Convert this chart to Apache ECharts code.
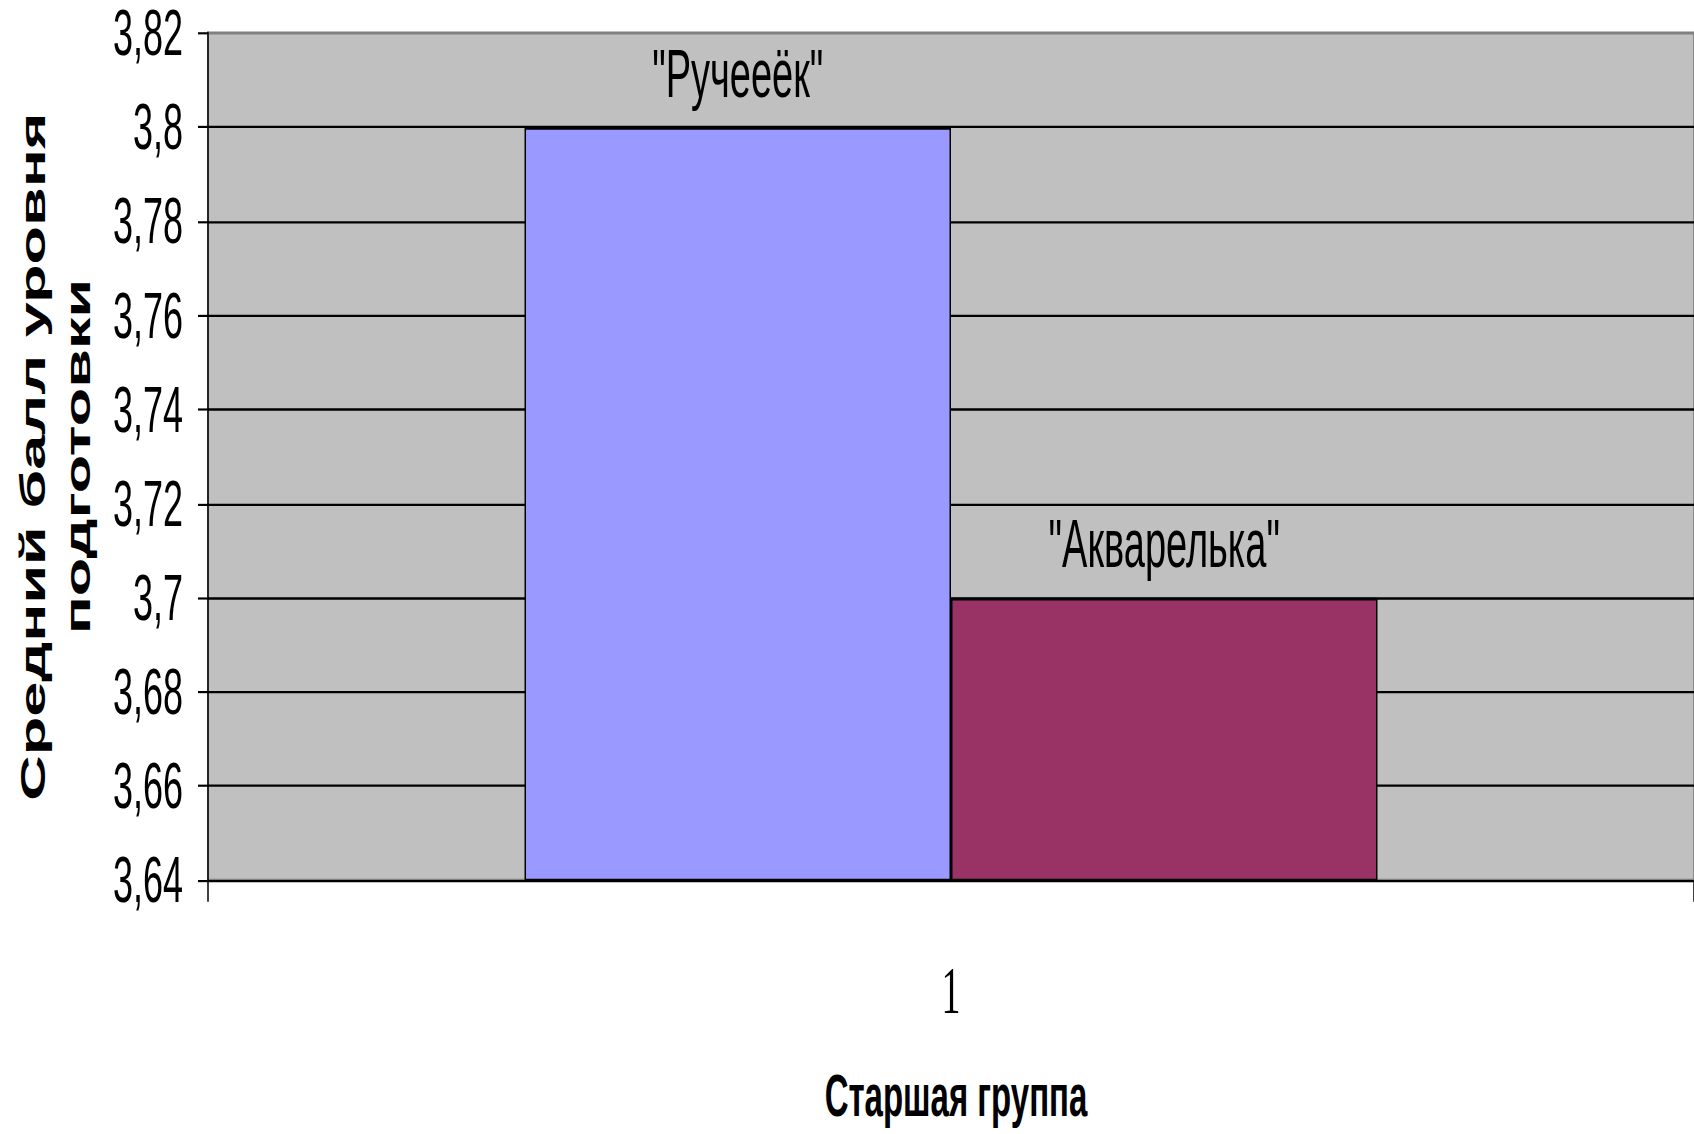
<!DOCTYPE html>
<html>
<head>
<meta charset="utf-8">
<script src="https://cdn.jsdelivr.net/npm/echarts@6/dist/echarts.min.js"></script>
<style>
  html, body { margin: 0; padding: 0; background: #ffffff; }
  #wrap { width: 1694px; height: 1134px; overflow: hidden; position: relative; }
  #chart { width: 1694px; height: 630px; transform: scaleY(1.8); transform-origin: 0 0; }
</style>
</head>
<body>
<div id="wrap"><div id="chart"></div></div>
<script>
// ---- data ----
const categories = ['1'];
const seriesNames = ['"Ручееёк"', '"Акварелька"'];
const seriesValues = [[3.8], [3.7]];
const seriesColors = ['#9999ff', '#993366'];
const yTicks = [3.64, 3.66, 3.68, 3.70, 3.72, 3.74, 3.76, 3.78, 3.80, 3.82];
const yTickLabels = ['3,64', '3,66', '3,68', '3,7', '3,72', '3,74', '3,76', '3,78', '3,8', '3,82'];
const yAxisTitle = 'Средний балл уровня\nподготовки';
const xAxisTitle = 'Старшая группа';

const narrow = "'Liberation Sans Narrow', 'Arial Narrow', 'Liberation Sans', sans-serif";
const chart = echarts.init(document.getElementById('chart'), null, { renderer: 'svg' });

function tickLabel(v) {
  let best = 0;
  for (let i = 0; i < yTicks.length; i++) {
    if (Math.abs(yTicks[i] - v) < Math.abs(yTicks[best] - v)) best = i;
  }
  return yTickLabels[best];
}

chart.setOption({
  animation: false,
  backgroundColor: '#ffffff',
  grid: {
    left: 208, right: 0, top: 18.3, bottom: 134.4,
    show: true, backgroundColor: '#c0c0c0', borderColor: '#808080', borderWidth: 1.7
  },
  xAxis: {
    type: 'category',
    data: categories,
    name: xAxisTitle,
    nameLocation: 'middle',
    nameGap: 103,
    nameTextStyle: { fontFamily: narrow, fontWeight: 'bold', fontSize: 33, color: '#000', padding: [0, 0, 0, 10] },
    axisLine: { show: true, lineStyle: { color: '#000', width: 1.3 } },
    axisTick: { show: true, length: 12, lineStyle: { color: '#000', width: 1.5 } },
    axisLabel: { fontFamily: "'Liberation Serif', serif", fontSize: 38, color: '#000', margin: 42 },
    splitLine: { show: false }
  },
  yAxis: {
    type: 'value',
    min: yTicks[0],
    max: yTicks[yTicks.length - 1],
    interval: 0.02,
    name: yAxisTitle,
    nameLocation: 'middle',
    nameRotate: 90,
    nameGap: 108,
    nameTextStyle: { fontFamily: "'Liberation Sans', Arial, sans-serif", fontWeight: 'bold', fontSize: 35, lineHeight: 45, color: '#000', align: 'center' },
    axisLine: { show: true, lineStyle: { color: '#000', width: 1.5 } },
    axisTick: { show: true, length: 10, lineStyle: { color: '#000', width: 1.2 } },
    axisLabel: { fontFamily: narrow, fontSize: 36, lineHeight: 20, color: '#000', margin: 25, padding: [6, 0, 0, 0], formatter: tickLabel },
    splitLine: { show: true, showMaxLine: false, showMinLine: false, lineStyle: { color: '#000', width: 1.3 } }
  },
  series: seriesNames.map((name, i) => ({
    type: 'bar',
    name: name,
    data: seriesValues[i],
    barWidth: '28.7%',
    barGap: '0%',
    itemStyle: { color: seriesColors[i], borderColor: '#000', borderWidth: 1.5 },
    label: {
      show: true, position: 'top', distance: 11,
      formatter: '{a}',
      fontFamily: narrow, fontSize: 38, color: '#000'
    }
  }))
});
</script>
</body>
</html>
